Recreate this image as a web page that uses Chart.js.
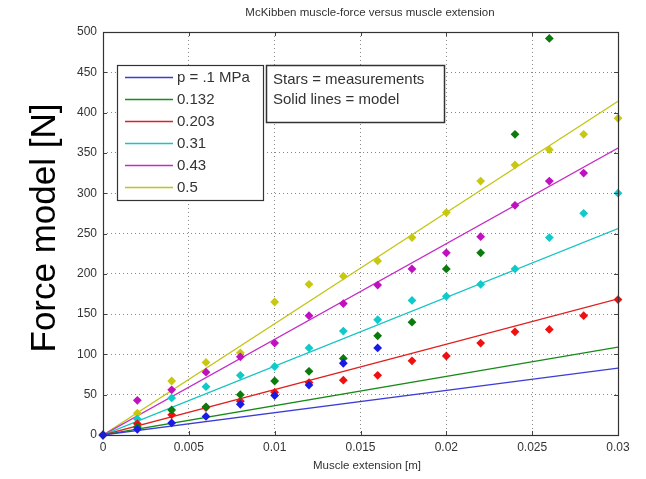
<!DOCTYPE html>
<html>
<head>
<meta charset="utf-8">
<script src="https://cdn.jsdelivr.net/npm/chart.js@4/dist/chart.umd.min.js"></script>
<style>
  html, body { margin: 0; padding: 0; background: #fff; }
  #chart { display: block; }
</style>
</head>
<body>
<canvas id="chart" width="646" height="479"></canvas>
<script>
// Chart data
const seriesLabels = ['p = .1 MPa', '0.132', '0.203', '0.31', '0.43', '0.5'];
const seriesColors = ['#3c3cd8', '#178a17', '#e02020', '#18c4c4', '#c42cc4', '#c4c418'];
const markerColors = ['#1a1ae6', '#0c7a0c', '#f01010', '#10caca', '#c010c0', '#c8c810'];

// Model lines (straight, from origin)
const modelX = [0, 0.03];
const modelBlue = [0, 83];
const modelGreen = [0, 109];
const modelRed = [0, 169];
const modelCyan = [0, 256];
const modelMagenta = [0, 356];
const modelYellow = [0, 414];

// Measurements
const measX = [0, 0.002, 0.004, 0.006, 0.008, 0.01, 0.012, 0.014, 0.016, 0.018, 0.02, 0.022, 0.024, 0.026, 0.028, 0.03];
const measBlue = [0, 7, 15, 23, 38, 49, 62, 89, 108, null, null, null, null, null, null, null];
const measGreen = [0, 10, 31, 35, 50, 67, 79, 95, 123, 140, 206, 226, 373, 492, null, null];
const measRed = [0, 14, 25, 34, 42, 53, 65, 68, 74, 92, 98, 114, 128, 131, 148, 168];
const measCyan = [0, 20, 46, 60, 74, 85, 108, 129, 143, 167, 172, 187, 206, 245, 275, 300];
const measMagenta = [0, 43, 56, 78, 97, 114, 148, 163, 186, 206, 226, 246, 285, 315, 325, null];
const measYellow = [0, 27, 67, 90, 102, 165, 187, 197, 216, 245, 276, 315, 335, 354, 373, 393];

const xTickLabels = ['0', '0.005', '0.01', '0.015', '0.02', '0.025', '0.03'];
const yTickLabels = ['0', '50', '100', '150', '200', '250', '300', '350', '400', '450', '500'];

const chartTitle = 'McKibben muscle-force versus muscle extension';
const xTitle = 'Muscle extension [m]';
const yTitle = 'Force model [N]';
const noteLines = ['Stars = measurements', 'Solid lines = model'];

const models = [modelBlue, modelGreen, modelRed, modelCyan, modelMagenta, modelYellow];
const measures = [measBlue, measGreen, measRed, measCyan, measMagenta, measYellow];

function toPoints(xs, ys) {
  return xs.map((x, i) => ({ x: x, y: ys[i] })).filter((p) => p.y !== null);
}

const datasets = [];
models.forEach((m, i) => {
  datasets.push({
    type: 'line',
    label: seriesLabels[i],
    data: toPoints(modelX, m),
    borderColor: seriesColors[i],
    borderWidth: 1.3,
    pointRadius: 0,
    fill: false,
    order: 2
  });
});
measures.forEach((m, i) => {
  datasets.push({
    type: 'scatter',
    label: seriesLabels[i] + ' meas',
    data: toPoints(measX, m),
    backgroundColor: markerColors[i],
    borderColor: markerColors[i],
    pointStyle: 'rectRot',
    pointRadius: 4.4,
    borderWidth: 0,
    clip: false,
    order: 1
  });
});

// Draw title, axis names, frame, legend and note box
const decorPlugin = {
  id: 'decor',
  afterDraw(chart) {
    const ctx = chart.ctx;
    const a = chart.chartArea;
    const xs = chart.scales.x;
    const ys = chart.scales.y;
    ctx.save();

    // inner tick marks
    ctx.strokeStyle = '#444';
    ctx.lineWidth = 1;
    xs.ticks.forEach((t) => {
      const px = Math.round(xs.getPixelForValue(t.value)) + 0.5;
      ctx.beginPath();
      ctx.moveTo(px, a.bottom); ctx.lineTo(px, a.bottom - 4);
      ctx.moveTo(px, a.top); ctx.lineTo(px, a.top + 4);
      ctx.stroke();
    });
    ys.ticks.forEach((t) => {
      const py = Math.round(ys.getPixelForValue(t.value)) + 0.5;
      ctx.beginPath();
      ctx.moveTo(a.left, py); ctx.lineTo(a.left + 4, py);
      ctx.moveTo(a.right, py); ctx.lineTo(a.right - 4, py);
      ctx.stroke();
    });

    // frame
    ctx.strokeStyle = '#333';
    ctx.lineWidth = 1.2;
    ctx.strokeRect(a.left + 0.5, a.top + 0.5, a.right - a.left, a.bottom - a.top);

    // title and axis names
    ctx.fillStyle = '#333';
    ctx.font = '11.5px "Liberation Sans", Arial, sans-serif';
    ctx.textAlign = 'center';
    ctx.textBaseline = 'middle';
    ctx.fillText(chartTitle, 370, 13);
    ctx.fillText(xTitle, 367, 466);

    ctx.save();
    ctx.fillStyle = '#000';
    ctx.font = '35px "Liberation Sans", Arial, sans-serif';
    ctx.translate(45, 228);
    ctx.rotate(-Math.PI / 2);
    ctx.fillText(yTitle, 0, 0);
    ctx.restore();

    // legend box
    ctx.fillStyle = '#fff';
    ctx.fillRect(117, 65, 146, 135);
    ctx.strokeStyle = '#333';
    ctx.lineWidth = 1.2;
    ctx.strokeRect(117.5, 65.5, 146, 135);
    ctx.font = '15px "Liberation Sans", Arial, sans-serif';
    ctx.textAlign = 'left';
    seriesLabels.forEach((lab, i) => {
      const y = 77 + i * 22;
      ctx.strokeStyle = seriesColors[i];
      ctx.lineWidth = 1.5;
      ctx.beginPath();
      ctx.moveTo(125, y + 0.5);
      ctx.lineTo(173, y + 0.5);
      ctx.stroke();
      ctx.fillStyle = '#333';
      ctx.fillText(lab, 177, y + 1);
    });

    // note box
    ctx.fillStyle = '#fff';
    ctx.fillRect(266, 65, 178, 57);
    ctx.strokeStyle = '#333';
    ctx.strokeRect(266.5, 65.5, 178, 57);
    ctx.fillStyle = '#333';
    ctx.fillText(noteLines[0], 273, 80);
    ctx.fillText(noteLines[1], 273, 100);

    ctx.restore();
  }
};

new Chart(document.getElementById('chart'), {
  data: { datasets: datasets },
  options: {
    responsive: false,
    animation: false,
    devicePixelRatio: 1,
    layout: { padding: { left: 63, right: 28, top: 32, bottom: 22 } },
    plugins: {
      legend: { display: false },
      tooltip: { enabled: false }
    },
    scales: {
      x: {
        type: 'linear',
        min: 0,
        max: 0.03,
        afterFit: (s) => { s.height = 22; },
        ticks: {
          stepSize: 0.005,
          padding: 5,
          color: '#333',
          font: { size: 12, family: '"Liberation Sans", Arial, sans-serif' },
          maxRotation: 0,
          autoSkip: false,
          callback: (v, i) => xTickLabels[i]
        },
        grid: { color: '#8a8a8a', drawTicks: false },
        border: { display: false, dash: [1, 3] }
      },
      y: {
        type: 'linear',
        min: 0,
        max: 500,
        afterFit: (s) => { s.width = 40; },
        ticks: {
          stepSize: 50,
          padding: 6,
          color: '#333',
          font: { size: 12, family: '"Liberation Sans", Arial, sans-serif' },
          autoSkip: false,
          callback: (v, i) => yTickLabels[i]
        },
        grid: { color: '#8a8a8a', drawTicks: false },
        border: { display: false, dash: [1, 3] }
      }
    }
  },
  plugins: [decorPlugin]
});
</script>
</body>
</html>
